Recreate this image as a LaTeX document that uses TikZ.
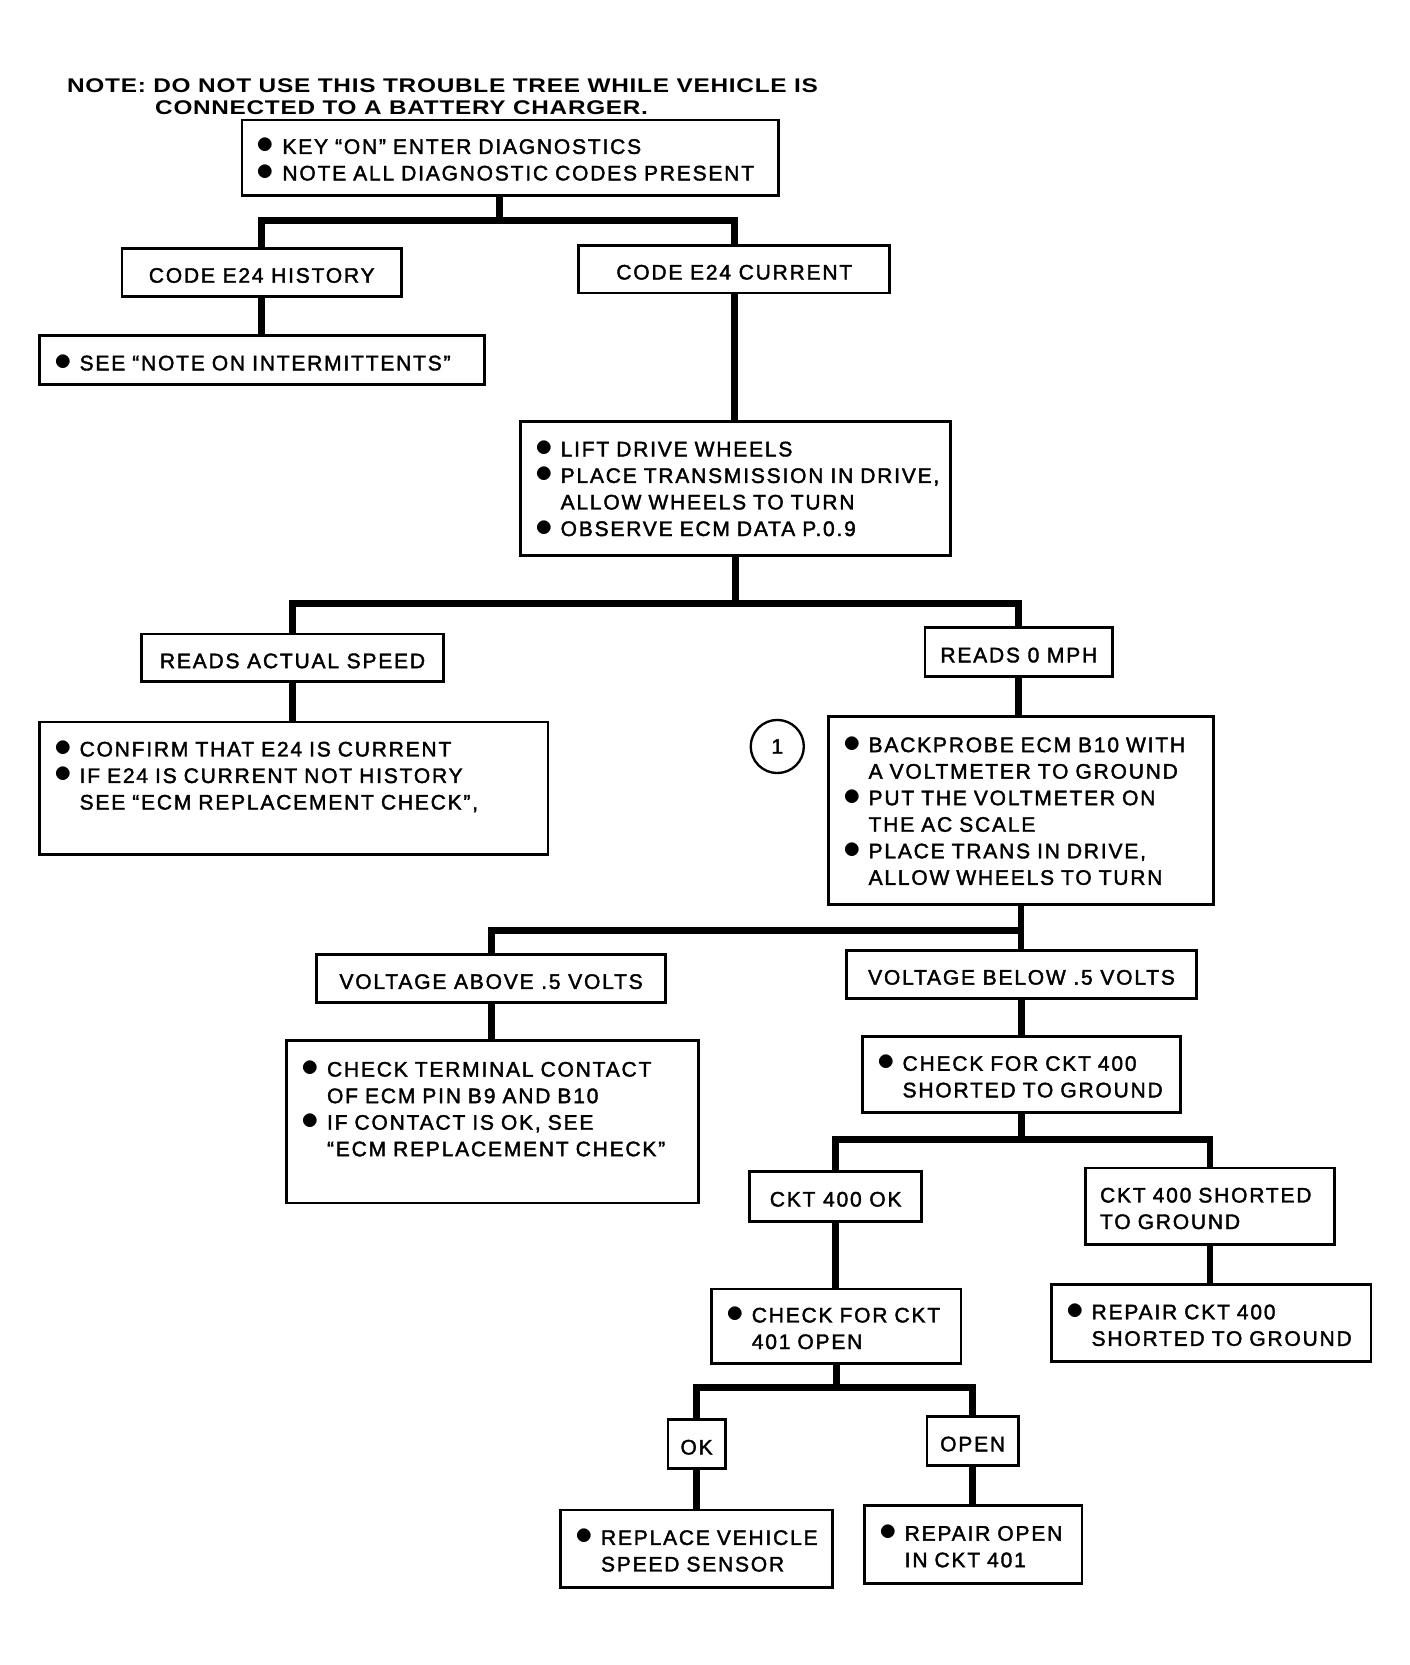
\documentclass[tikz,border=0pt]{standalone}
\usepackage{fontspec}
\usepackage{graphicx}
\setmainfont{Liberation Sans}[LetterSpace=9]
\newfontfamily\boxfont{Liberation Sans}[LetterSpace=8.5, FakeBold=1.8]
\newfontfamily\notefont{Liberation Sans}[LetterSpace=3]
\newcommand\blt{\makebox[24pt][l]{\scalebox{1.6}{$\bullet$}}}
\newcommand\bl[1]{\mbox{\blt#1}}
\newcommand\ct[1]{\mbox{\hspace*{24pt}#1}}
\newcommand\pl[1]{\mbox{#1}}
\newcommand\up{\rule{0pt}{18pt}}
\tikzset{
  box/.style={draw, line width=2.6pt, inner sep=0pt, font=\boxfont\fontsize{19.8pt}{25pt}\selectfont},
  cbox/.style 2 args={box, minimum width=#1pt, minimum height=#2pt, align=center, text height=19.5pt, text depth=0pt},
  lbox/.style 2 args={box, text width=#1pt, minimum height=#2pt, inner xsep=14pt, align=left},
  conn/.style={line width=6.5pt, line join=miter},
}
\begin{document}
\begin{tikzpicture}[x=1pt, y=-1pt]
\fill[white] (0,0) rectangle (1327,1568);
\useasboundingbox (0,0) rectangle (1327,1568);

% note
\node[anchor=base west, inner sep=0] (note1) at (63,87.3)
  {\resizebox{707pt}{13pt}{\notefont\bfseries NOTE: DO NOT USE THIS TROUBLE TREE WHILE VEHICLE IS}};
\node[anchor=base west, inner sep=0] (note2) at (146,107.4)
  {\resizebox{464pt}{13pt}{\notefont\bfseries CONNECTED TO A BATTERY CHARGER.}};

% boxes
\node[lbox={477}{71}] (b1) at (480.5,148.5)
  {\up\bl{KEY “ON” ENTER DIAGNOSTICS}\\ \bl{NOTE ALL DIAGNOSTIC CODES PRESENT}};
\node[cbox={263}{45}] (hist) at (246.5,256.5) {CODE E24 HISTORY};
\node[cbox={293}{45}] (cur) at (691.5,253.5) {CODE E24 CURRENT};
\node[lbox={391}{46}, text height=19.5pt, text depth=0pt] (seenote) at (246.5,339) {\bl{SEE “NOTE ON INTERMITTENTS”}};
\node[lbox={377}{126}] (lift) at (692.5,460)
  {\bl{LIFT DRIVE WHEELS}\\ \bl{PLACE TRANSMISSION IN DRIVE,}\\ \ct{ALLOW WHEELS TO TURN}\\ \bl{OBSERVE ECM DATA P.0.9}};
\node[cbox={285}{45}] (actual) at (275.5,619.5) {READS ACTUAL SPEED};
\node[cbox={177}{46}] (zero) at (959.5,614) {READS 0 MPH};
\node[lbox={451}{125}] (confirm) at (276.5,742.5)
  {\bl{CONFIRM THAT E24 IS CURRENT}\\ \bl{IF E24 IS CURRENT NOT HISTORY}\\ \ct{SEE “ECM REPLACEMENT CHECK”,}\\ \mbox{}};
\node[circle, draw, line width=2.2pt, minimum size=50pt, inner sep=0pt, font=\boxfont\fontsize{19.8pt}{25pt}\selectfont] (c1) at (732,703) {1};
\node[lbox={335}{177}] (back) at (961.5,763.5)
  {\bl{BACKPROBE ECM B10 WITH}\\ \ct{A VOLTMETER TO GROUND}\\ \bl{PUT THE VOLTMETER ON}\\ \ct{THE AC SCALE}\\ \bl{PLACE TRANS IN DRIVE,}\\ \ct{ALLOW WHEELS TO TURN}};
\node[cbox={329}{45}] (above) at (462.5,921.5) {VOLTAGE ABOVE .5 VOLTS};
\node[cbox={330}{45}] (below) at (962,917.5) {VOLTAGE BELOW .5 VOLTS};
\node[lbox={360}{153}] (term) at (464,1056.5)
  {\bl{CHECK TERMINAL CONTACT}\\ \ct{OF ECM PIN B9 AND B10}\\ \bl{IF CONTACT IS OK, SEE}\\ \ct{“ECM REPLACEMENT CHECK”}\\ \mbox{}};
\node[lbox={272}{72}] (chk400) at (962,1012)
  {\up\bl{CHECK FOR CKT 400}\\ \ct{SHORTED TO GROUND}};
\node[cbox={162}{47}] (ok400) at (787,1126.5) {CKT 400 OK};
\node[lbox={207}{72}] (sh400) at (1139.5,1136)
  {\up\pl{CKT 400 SHORTED}\\ \pl{TO GROUND}};
\node[lbox={207}{70}] (chk401) at (787.5,1249)
  {\up\bl{CHECK FOR CKT}\\ \ct{401 OPEN}};
\node[lbox={273}{72}] (rep400) at (1140.5,1246)
  {\up\bl{REPAIR CKT 400}\\ \ct{SHORTED TO GROUND}};
\node[cbox={54}{46}] (ok) at (656,1360) {OK};
\node[cbox={86}{46}] (open) at (916,1357) {OPEN};
\node[lbox={228}{73}] (replace) at (656,1458.5)
  {\up\bl{REPLACE VEHICLE}\\ \ct{SPEED SENSOR}};
\node[lbox={177}{73}] (repopen) at (916.5,1454.5)
  {\up\bl{REPAIR OPEN}\\ \ct{IN CKT 401}};

% junctions
\coordinate (j1) at (470,208);
\coordinate (j2) at (692.5,568);
\coordinate (j3) at (961.5,876);
\coordinate (j4) at (962,1073);
\coordinate (j5) at (787.5,1307);

% connectors
\draw[conn] (b1.south -| j1) -- (j1);
\draw[conn] (hist.north) |- (j1) -| (cur.north);
\draw[conn] (hist.south) -- (hist.south |- seenote.north);
\draw[conn] (cur.south) -- (cur.south |- lift.north);
\draw[conn] (lift.south) -- (j2);
\draw[conn] (actual.north) |- (j2) -| (zero.north);
\draw[conn] (actual.south) -- (actual.south |- confirm.north);
\draw[conn] (zero.south) -- (zero.south |- back.north);
\draw[conn] (back.south) -- (back.south |- below.north);
\draw[conn] (above.north) |- (j3);
\draw[conn] (above.south) -- (above.south |- term.north);
\draw[conn] (below.south) -- (below.south |- chk400.north);
\draw[conn] (chk400.south) -- (j4);
\draw[conn] (ok400.north) |- (j4) -| (sh400.north);
\draw[conn] (ok400.south) -- (ok400.south |- chk401.north);
\draw[conn] (sh400.south) -- (sh400.south |- rep400.north);
\draw[conn] (chk401.south) -- (j5);
\draw[conn] (ok.north) |- (j5) -| (open.north);
\draw[conn] (ok.south) -- (ok.south |- replace.north);
\draw[conn] (open.south) -- (open.south |- repopen.north);
\end{tikzpicture}
\end{document}
